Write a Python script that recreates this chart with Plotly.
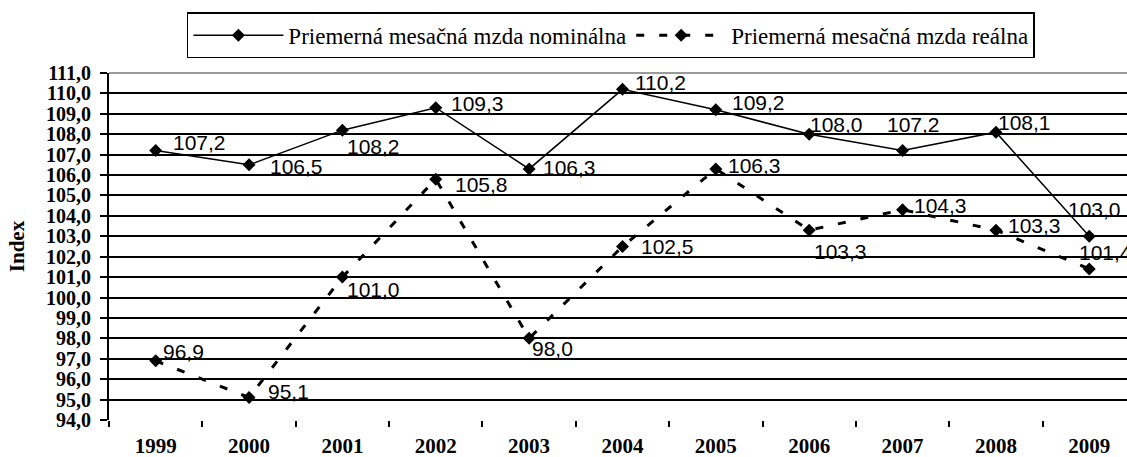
import plotly.graph_objects as go

years = ["1999", "2000", "2001", "2002", "2003", "2004", "2005", "2006", "2007", "2008", "2009"]
nominal = [107.2, 106.5, 108.2, 109.3, 106.3, 110.2, 109.2, 108.0, 107.2, 108.1, 103.0]
real = [96.9, 95.1, 101.0, 105.8, 98.0, 102.5, 106.3, 103.3, 104.3, 103.3, 101.4]
name_nom = "Priemerná mesačná mzda nominálna"
name_real = "Priemerná mesačná mzda reálna"
y_ticks = [94 + i for i in range(18)]

# label pixel offsets (dx right, dy down) of each data label's left/middle from its point
nom_off = [(17, -8), (21, 2), (5, 16), (15, -4), (14, -1), (13, -7), (16, -7), (1, -10), (-16, -26), (2, -10), (-21, -27)]
real_off = [(7, -9), (19, -6), (5, 12), (19, 5), (3, 10), (19, 0), (12, -3), (5, 21), (11, -4), (12, -5), (-10, -16)]

SERIF = "Liberation Serif"
SANS = "Liberation Sans"

fig = go.Figure()
fig.add_trace(go.Scatter(
    x=years, y=nominal, name=name_nom, mode="lines+markers",
    line=dict(color="black", width=1.5),
    marker=dict(symbol="diamond", size=10, color="black"),
))
fig.add_trace(go.Scatter(
    x=years, y=real, name=name_real, mode="lines+markers",
    line=dict(color="black", width=3, dash="8px,15px"),
    marker=dict(symbol="diamond", size=10, color="black"),
))

def fmt(v):
    return f"{v:.1f}".replace(".", ",")

annots = []
for series, offs in ((nominal, nom_off), (real, real_off)):
    for i, (yv, (dx, dy)) in enumerate(zip(series, offs)):
        annots.append(dict(
            x=i, y=yv, xref="x", yref="y", text=fmt(yv), showarrow=False,
            xanchor="left", yanchor="middle", xshift=dx - 2, yshift=-dy,
            font=dict(family=SANS, size=21, color="black"),
        ))

fig.update_layout(
    width=1127, height=457,
    margin=dict(l=109, r=0, t=73, b=37, autoexpand=False),
    paper_bgcolor="white", plot_bgcolor="white",
    separators=", ",
    showlegend=True,
    annotations=annots,
    shapes=[dict(type="line", xref="paper", yref="paper", x0=0, x1=1, y0=1, y1=1,
                 line=dict(color="#9a9a9a", width=2))],
    legend=dict(
        orientation="h", x=0.493, xanchor="center", y=1.175, yanchor="top",
        bordercolor="black", borderwidth=1.5,
        font=dict(family=SERIF, size=23, color="black"),
        itemwidth=90,
    ),
    xaxis=dict(
        type="category", range=[-0.5, 10.404], automargin=False,
        showgrid=False, showline=False, zeroline=False,
        ticks="outside", tickson="boundaries", ticklen=6, tickwidth=2, tickcolor="black",
        tickfont=dict(family=SERIF, size=21, color="black", weight="bold"),
        ticklabelstandoff=11,
    ),
    yaxis=dict(
        range=[94, 111], tickvals=y_ticks, tickformat=".1f", automargin=False,
        showgrid=True, gridcolor="black", gridwidth=2,
        showline=True, linecolor="black", linewidth=2, zeroline=False,
        ticks="outside", ticklen=7, tickwidth=2, tickcolor="black",
        tickfont=dict(family=SERIF, size=20, color="black", weight="bold"),
        ticklabelstandoff=5,
        title=dict(text="Index", font=dict(family=SERIF, size=21, color="black", weight="bold"), standoff=16),
    ),
)

fig.write_html("out.html", config={"displayModeBar": False},
               post_script="document.body.style.margin='0px';document.body.style.overflow='hidden';")
